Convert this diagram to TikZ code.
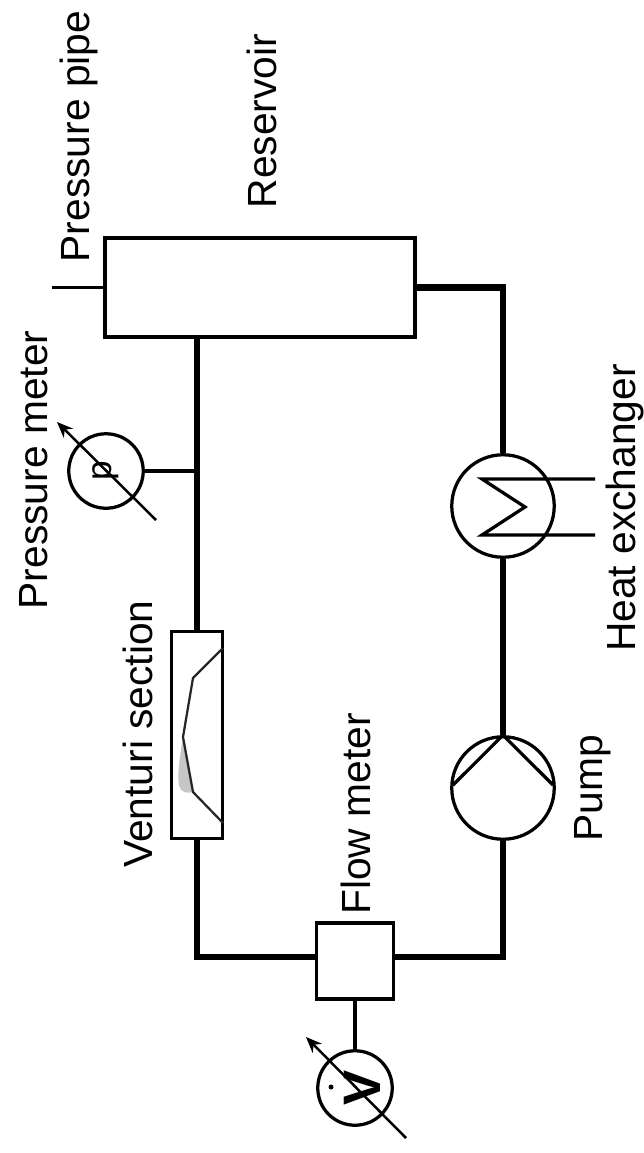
\documentclass[tikz,border=0pt]{standalone}
\usepackage{fontspec}
\setmainfont{Liberation Sans}
\usepackage{tikz}
\usetikzlibrary{arrows.meta}

\begin{document}
\begin{tikzpicture}[
  x=0.02cm, y=-0.02cm,
  every node/.style={font=\fontsize{23.2}{25}\selectfont},
  box/.style={draw, line width=0.07cm, inner sep=0pt},
  meter/.style={draw, circle, line width=0.065cm, minimum size=1.49cm, inner sep=0pt},
  bigcirc/.style={draw, circle, line width=0.065cm, minimum size=2.05cm, inner sep=0pt},
  txt/.style={rotate=90, anchor=base, inner sep=0pt},
  pipe/.style={line width=0.125cm},
  wire/.style={line width=0.065cm},
  needle/.style={-{Stealth[length=0.32cm,width=0.26cm]}, line width=0.05cm}
]
  \useasboundingbox (0,0) rectangle (644,1153);

  \node[box, minimum width=6.2cm, minimum height=1.98cm] (res) at (260,287.5) {};
  \node[box, minimum width=1.04cm, minimum height=4.16cm, line width=0.06cm] (vent) at (197,735) {};
  \node[box, minimum width=1.54cm, minimum height=1.52cm] (flow) at (355,961) {};
  \node[meter] (pm) at (106,471) {};
  \node[meter] (fm) at (355,1088) {};
  \node[bigcirc] (hx) at (503,506) {};
  \node[bigcirc] (pump) at (503,788) {};

  \node[txt] (respipe) at (89,136.5) {Pressure pipe};
  \node[txt] (reslab) at (276,121) {Reservoir};
  \node[txt] (pmlab) at (47,470) {Pressure meter};
  \node[txt] (ventlab) at (152,734) {Venturi section};
  \node[txt] (flowlab) at (370,814) {Flow meter};
  \node[txt] (hxlab) at (635,508) {Heat exchanger};
  \node[txt] (pumplab) at (602,788) {Pump};
  \node[txt, font=\fontsize{20}{22}\selectfont] (plab) at (111,471) {p};
  \node[txt, font=\bfseries\fontsize{30}{32}\selectfont] (vlab) at (380,1088) {V};
  \node[circle, fill, minimum size=0.1cm, inner sep=0pt] (vdot) at (331,1087) {};

  \coordinate (tick) at (52,287.5);
  \coordinate (flowl) at (318,957);
  \coordinate (flowr) at (394,957);
  \coordinate (hxa) at (595,479);
  \coordinate (hxb) at (482,479);
  \coordinate (hxc) at (525,507);
  \coordinate (hxd) at (482,535);
  \coordinate (hxe) at (595,535);
  \coordinate (pumpl) at (453,785);
  \coordinate (pumpr) at (553,785);
  \coordinate (pma) at (156,520);
  \coordinate (pmb) at (57,422);
  \coordinate (fma) at (406,1138);
  \coordinate (fmb) at (306,1037);
  \coordinate (va) at (223,648);
  \coordinate (vb) at (193,678);
  \coordinate (vc) at (183,737);
  \coordinate (vd) at (193,792);
  \coordinate (ve) at (223,823);

  \draw[pipe] (vent.north) -- (vent.north |- res.south);
  \draw[pipe] (vent.south) |- (flowl);
  \draw[pipe] (flowr) -| (pump.south);
  \draw[pipe] (pump.north) -- (hx.south);
  \draw[pipe] (hx.north) |- (res.east);

  \draw[wire] (res.west) -- (tick);
  \draw[wire] (pm.east) -- (pm.east -| vent.north);
  \draw[wire] (flow.south) -- (fm.north);
  \draw[wire] (hxa) -- (hxb) -- (hxc) -- (hxd) -- (hxe);
  \draw[wire] (pumpl) -- (pump.north) -- (pumpr);
  \draw[needle] (pma) -- (pmb);
  \draw[needle] (fma) -- (fmb);

  \fill[gray!45] (vc) .. controls (180,755) and (177,775) .. (179,785) .. controls (181,794) and (188,793) .. (vd) -- cycle;
  \draw[gray!30!black, line width=0.045cm] (va) -- (vb) -- (vc) -- (vd) -- (ve);
\end{tikzpicture}
\end{document}
